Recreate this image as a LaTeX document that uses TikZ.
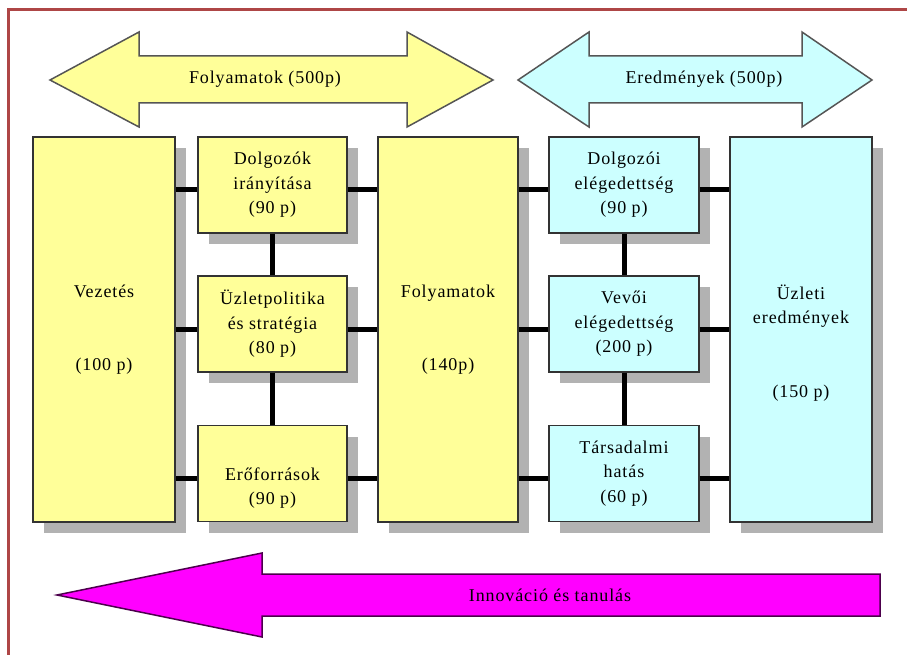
\documentclass[tikz,border=0pt]{standalone}
\usepackage{fontspec}
\setmainfont[LetterSpace=5]{Liberation Serif}
\usetikzlibrary{shadows}
\definecolor{boxyellow}{HTML}{FFFF99}
\definecolor{boxcyan}{HTML}{CCFFFF}
\definecolor{bandpink}{HTML}{FF00FF}
\definecolor{frame}{HTML}{AE4646}
\definecolor{edge}{HTML}{555555}

\begin{document}
\begin{tikzpicture}[
		x = 1pt, y = -1pt,
		every node/.style = { font = \fontsize{18}{24.5}\selectfont },
		box/.style = { draw = black!80, line width = 1.2pt, align = center, inner sep = 0pt,
			general shadow = { fill = black!30, shadow xshift = 11pt, shadow yshift = -11pt } },
		tallbox/.style = { box, minimum width = 142pt, minimum height = 385pt },
		smallbox/.style = { box, minimum width = 149pt, minimum height = 96pt },
		link/.style = { draw, line width = 5pt },
		band/.style = { draw = edge, line width = 1.5pt }
	]
	\useasboundingbox (0,0) rectangle (907,655);
	\draw [frame, line width = 2.5pt] (907,9.5) -- (8.5,9.5) -- (8.5,655);

	\filldraw [band, fill = boxyellow] (50,80) -- (139,32) -- (139,56) -- (407,56) -- (407,32)
		-- (493,80) -- (407,127) -- (407,103) -- (139,103) -- (139,127) -- cycle;
	\node (folyband) at (265,79) { Folyamatok (500p) };
	\filldraw [band, fill = boxcyan] (518,80) -- (589,32) -- (589,56) -- (802,56) -- (802,32)
		-- (872,80) -- (802,127) -- (802,103) -- (589,103) -- (589,127) -- cycle;
	\node (eredband) at (704,79) { Eredmények (500p) };

	\node [tallbox, fill = boxyellow] (vez) at (104,329.5) { Vezetés\\[49pt](100 p) };
	\node [smallbox, fill = boxyellow] (dolg) at (272.5,185) { Dolgozók\\irányítása\\(90 p) };
	\node [smallbox, fill = boxyellow] (uzpol) at (272.5,324) { Üzletpolitika\\és stratégia\\(80 p) };
	\node [smallbox, fill = boxyellow] (eroforr) at (272.5,473.5) { \strut\\Erőforrások\\(90 p) };
	\node [tallbox, minimum width = 140pt, fill = boxyellow] (folyam) at (448,329.5) { Folyamatok\\[49pt](140p) };
	\node [smallbox, minimum width = 150pt, fill = boxcyan] (dolgel) at (624,185) { Dolgozói\\elégedettség\\(90 p) };
	\node [smallbox, minimum width = 150pt, fill = boxcyan] (vevo) at (624,324) { Vevői\\elégedettség\\(200 p) };
	\node [smallbox, minimum width = 150pt, fill = boxcyan] (tars) at (624,473.5) { Társadalmi\\hatás\\(60 p) };
	\node [tallbox, fill = boxcyan] (uzleti) at (801,329.5) { \strut\\Üzleti\\eredmények\\[49pt](150 p) };

	\foreach \a/\b in {dolg/vez, uzpol/vez, eroforr/vez, dolgel/folyam, vevo/folyam, tars/folyam} {
		\draw [link] ([yshift = -5pt]\a.west) -- ([yshift = -5pt]\a.west -| \b.east);
	}
	\foreach \a/\b in {dolg/folyam, uzpol/folyam, eroforr/folyam, dolgel/uzleti, vevo/uzleti, tars/uzleti} {
		\draw [link] ([yshift = -5pt]\a.east) -- ([yshift = -5pt]\a.east -| \b.west);
	}
	\draw [link] (dolg) -- (uzpol) -- (eroforr);
	\draw [link] (dolgel) -- (vevo) -- (tars);

	\filldraw [draw = black!70!bandpink, line width = 1.5pt, fill = bandpink] (57,595) -- (262,553)
		-- (262,574) -- (880,574) -- (880,616) -- (262,616) -- (262,637) -- cycle;
	\node (innov) at (550,595) { Innováció és tanulás };
\end{tikzpicture}
\end{document}
